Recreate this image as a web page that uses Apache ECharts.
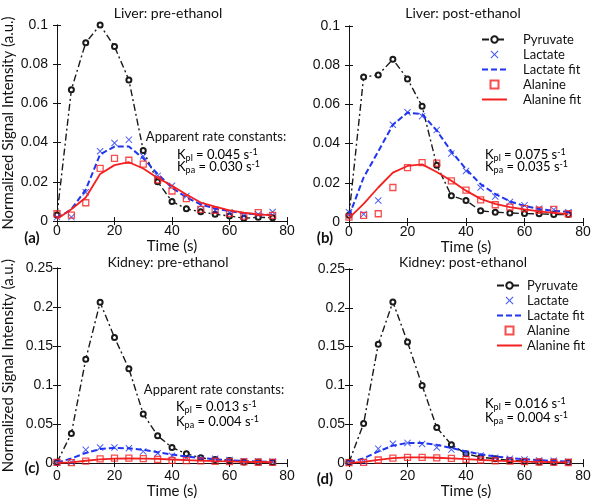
<!DOCTYPE html>
<html><head><meta charset="utf-8">
<script src="https://cdn.jsdelivr.net/npm/echarts@6/dist/echarts.min.js"></script>
<style>html,body{margin:0;padding:0;background:#fff}#c{width:601px;height:500px}</style>
</head><body><div id="c"></div>
<script>
var time = [0,5,10,15,20,25,30,35,40,45,50,55,60,65,70,75];
var panelTitles = ['Liver: pre-ethanol','Liver: post-ethanol','Kidney: pre-ethanol','Kidney: post-ethanol'];
var panelLetters = ['(a)','(b)','(c)','(d)'];
var liverTicks = [0,0.02,0.04,0.06,0.08,0.1];
var kidneyTicks = [0,0.05,0.1,0.15,0.2,0.25];
var timeTicks = [0,20,40,60,80];
var seriesNames = ['Pyruvate','Lactate','Lactate fit','Alanine','Alanine fit'];
var rateKpl = ['0.045','0.075','0.013','0.016'];
var rateKpa = ['0.030','0.035','0.004','0.004'];

// (a) Liver pre-ethanol
var liverPrePyruvate    = [0.003,0.067,0.091,0.100,0.089,0.072,0.036,0.020,0.010,0.0062,0.0047,0.0034,0.0026,0.0014,0.0019,0.0017];
var liverPreLactate     = [0.002,0.002,0.0147,0.0356,0.0398,0.0415,0.033,0.023,0.018,0.0127,0.0080,0.0055,0.0043,0.0026,0.0034,0.0046];
var liverPreLactateFit  = [0.0014,0.006,0.016,0.034,0.038,0.038,0.032,0.024,0.017,0.012,0.0085,0.0063,0.0051,0.0039,0.0034,0.0030];
var liverPreAlanine     = [0.0037,0.0030,0.0093,0.0268,0.032,0.031,0.029,0.021,0.0153,0.0114,0.0059,0.0054,0.0039,0.0025,0.0043,0.0029];
var liverPreAlanineFit  = [0.001,0.006,0.012,0.024,0.0285,0.030,0.0268,0.022,0.018,0.0135,0.0094,0.0073,0.0054,0.0043,0.0034,0.0029];
// (b) Liver post-ethanol
var liverPostPyruvate   = [0.0034,0.074,0.075,0.083,0.073,0.059,0.029,0.0134,0.011,0.0057,0.005,0.0046,0.0043,0.0042,0.0038,0.0038];
var liverPostLactate    = [0.005,0.004,0.011,0.0496,0.056,0.054,0.047,0.035,0.026,0.0176,0.013,0.0102,0.0085,0.0068,0.0063,0.005];
var liverPostLactateFit = [0.003,0.0227,0.036,0.0496,0.0558,0.055,0.0466,0.036,0.027,0.0193,0.0143,0.0105,0.0082,0.0066,0.0057,0.0052];
var liverPostAlanine    = [0.0025,0.0034,0.0042,0.0176,0.0277,0.0303,0.030,0.021,0.0163,0.0113,0.0088,0.0076,0.0068,0.006,0.0064,0.0042];
var liverPostAlanineFit = [0.002,0.0092,0.0176,0.0252,0.0286,0.0294,0.0255,0.021,0.016,0.0118,0.0092,0.0076,0.0064,0.0054,0.0047,0.004];
// (c) Kidney pre-ethanol
var kidneyPrePyruvate    = [0.001,0.038,0.133,0.206,0.161,0.121,0.063,0.035,0.020,0.012,0.0067,0.0046,0.0034,0.0013,0.0013,0.0010];
var kidneyPreLactate     = [0.001,0.001,0.017,0.020,0.020,0.019,0.015,0.0126,0.0093,0.0067,0.006,0.0055,0.004,0.0025,0.0025,0.002];
var kidneyPreLactateFit  = [0.0005,0.006,0.013,0.018,0.0195,0.019,0.017,0.014,0.011,0.0085,0.0065,0.005,0.0035,0.0027,0.002,0.0015];
var kidneyPreAlanine     = [0.001,0.0005,0.0025,0.0055,0.0063,0.0063,0.0058,0.0046,0.0034,0.0032,0.0028,0.0024,0.0019,0.0015,0.0011,0.001];
var kidneyPreAlanineFit  = [0.0002,0.001,0.003,0.0048,0.0057,0.006,0.0058,0.0053,0.0046,0.0039,0.0032,0.0026,0.0021,0.0017,0.0014,0.0011];
// (d) Kidney post-ethanol
var kidneyPostPyruvate   = [0.001,0.051,0.153,0.2076,0.156,0.100,0.0458,0.0237,0.012,0.0076,0.0055,0.0034,0.0025,0.0013,0.0013,0.001];
var kidneyPostLactate    = [0.001,0.002,0.0186,0.025,0.026,0.0246,0.020,0.0174,0.012,0.0097,0.0068,0.0055,0.0047,0.0034,0.003,0.002];
var kidneyPostLactateFit = [0.001,0.006,0.015,0.0225,0.026,0.026,0.0235,0.0195,0.015,0.0115,0.0085,0.0065,0.005,0.0037,0.0028,0.002];
var kidneyPostAlanine    = [0.0005,0.001,0.004,0.0065,0.0075,0.0075,0.0068,0.006,0.0048,0.004,0.003,0.0025,0.0018,0.0014,0.001,0.0008];
var kidneyPostAlanineFit = [0.0002,0.0015,0.0042,0.0063,0.0073,0.0074,0.0069,0.006,0.005,0.0041,0.0033,0.0026,0.002,0.0016,0.0012,0.001];

var panels = [
  [liverPrePyruvate, liverPreLactate, liverPreLactateFit, liverPreAlanine, liverPreAlanineFit],
  [liverPostPyruvate, liverPostLactate, liverPostLactateFit, liverPostAlanine, liverPostAlanineFit],
  [kidneyPrePyruvate, kidneyPreLactate, kidneyPreLactateFit, kidneyPreAlanine, kidneyPreAlanineFit],
  [kidneyPostPyruvate, kidneyPostLactate, kidneyPostLactateFit, kidneyPostAlanine, kidneyPostAlanineFit]
];
var yTicks = [liverTicks, liverTicks, kidneyTicks, kidneyTicks];

function pairs(v){ return time.map(function(t,i){ return [t, v[i]]; }); }

var BLUE = '#1f35f0', RED = '#f42020', BLACK = '#1a1a1a';
var FONT = 'Lato';
var XSYM = 'path://M0,1L1,0L5,4L9,0L10,1L6,5L10,9L9,10L5,6L1,10L0,9L4,5Z';
var SQ = 'path://M0,0L10,0L10,10L0,10Z';

var grids = [
  {left:53, top:25, width:234, height:196},
  {left:349, top:26, width:234, height:196},
  {left:53, top:268, width:234, height:198},
  {left:349, top:269, width:234, height:197}
];
var xAxes = [], yAxes = [], series = [];
for (var p=0;p<4;p++){
  var bottom = p>=2;
  var yt = yTicks[p];
  xAxes.push({gridIndex:p, type:'value', min:timeTicks[0], max:timeTicks[timeTicks.length-1], interval:timeTicks[1]-timeTicks[0],
    name:'Time (s)', nameLocation:'middle', nameGap: bottom?19:16,
    nameTextStyle:{fontFamily:FONT, fontSize:15, color:'#111'},
    axisLine:{lineStyle:{color:'#111', width:1}}, axisTick:{inside:true, length:4, lineStyle:{color:'#111'}},
    axisLabel:{margin: bottom?6:3, fontFamily:'Liberation Sans', fontSize:14, color:'#111'}, splitLine:{show:false}});
  yAxes.push({gridIndex:p, type:'value', min:yt[0], max:yt[yt.length-1], interval:yt[1]-yt[0],
    name: (p%2===0)?'Normalized Signal Intensity (a.u.)':'', nameLocation:'middle', nameGap:41, nameRotate:90,
    nameTextStyle:{fontFamily:FONT, fontSize:15, color:'#111'},
    axisLine:{show:true, lineStyle:{color:'#111', width:1}}, axisTick:{inside:true, length:4, lineStyle:{color:'#111'}},
    axisLabel:{margin: bottom?4:9, fontFamily:'Liberation Sans', fontSize:14, color:'#111'}, splitLine:{show:false}});
}
for (var p=0;p<4;p++){
  var yt = yTicks[p];
  xAxes.push({gridIndex:p, type:'value', position:'top', min:timeTicks[0], max:timeTicks[timeTicks.length-1], interval:timeTicks[1]-timeTicks[0],
    axisLine:{lineStyle:{color:'#111', width:1}}, axisTick:{inside:true, length:4, lineStyle:{color:'#111'}},
    axisLabel:{show:false}, splitLine:{show:false}});
  yAxes.push({gridIndex:p, type:'value', position:'right', min:yt[0], max:yt[yt.length-1], interval:yt[1]-yt[0],
    axisLine:{show:true, lineStyle:{color:'#111', width:1}}, axisTick:{inside:true, length:4, lineStyle:{color:'#111'}},
    axisLabel:{show:false}, splitLine:{show:false}});
}
for (var p=0;p<4;p++){
  var d = panels[p];
  series.push({name:seriesNames[0], type:'line', xAxisIndex:p, yAxisIndex:p, data:pairs(d[0]),
    symbol:'emptyCircle', symbolSize:5, itemStyle:{color:BLACK, borderWidth:1},
    lineStyle:{color:BLACK, width:1.4, type:[7,3,2,3]}, z:2});
  series.push({name:seriesNames[1], type:'scatter', xAxisIndex:p, yAxisIndex:p, data:pairs(d[1]),
    symbol:XSYM, symbolSize:7, itemStyle:{color:BLUE}, z:3});
  series.push({name:seriesNames[2], type:'line', xAxisIndex:p, yAxisIndex:p, data:pairs(d[2]),
    symbol:'none', lineStyle:{color:BLUE, width:2, type:[6,3]}, itemStyle:{color:BLUE}, z:3});
  series.push({name:seriesNames[3], type:'scatter', xAxisIndex:p, yAxisIndex:p, data:pairs(d[3]),
    symbol:'rect', symbolSize:6, itemStyle:{color:'rgba(0,0,0,0)', borderColor:RED, borderWidth:1.3}, z:4});
  series.push({name:seriesNames[4], type:'line', xAxisIndex:p, yAxisIndex:p, data:pairs(d[4]),
    symbol:'none', lineStyle:{color:RED, width:1.8}, itemStyle:{color:RED}, z:4});
}

var rich = {
  b:{fontFamily:FONT, fontSize:13, color:'#111'},
  sub:{fontFamily:FONT, fontSize:9, color:'#111', verticalAlign:'bottom', padding:[6,0,0,0]},
  sup:{fontFamily:FONT, fontSize:9, color:'#111', verticalAlign:'top', padding:[0,0,6,0]}
};
function rateText(sub, val){ return '{b|K}{sub|'+sub+'}{b| = '+val+' s}{sup|-1}'; }

var graphics = [];
var titlePos = [[168,13],[463,13],[168,262],[463,262]];
var letterPos = [[32,238],[325,238],[32,468],[325,479]];
for (var p=0;p<4;p++){
  graphics.push({type:'text', x:titlePos[p][0], y:titlePos[p][1], style:{text:panelTitles[p], font:'14px '+FONT, fill:'#111', textAlign:'center', textVerticalAlign:'middle'}});
  graphics.push({type:'text', x:letterPos[p][0], y:letterPos[p][1], style:{text:panelLetters[p], font:'bold 15px '+FONT, fill:'#111', textAlign:'center', textVerticalAlign:'middle'}});
}
var apparentPos = [[216,137],null,[214,390],null];
var kplPos = [[177,155],[485,155],[176,407],[485,404]];
var kpaPos = [[177,167],[485,167],[176,422],[485,418]];
for (var p=0;p<4;p++){
  if (apparentPos[p]) graphics.push({type:'text', x:apparentPos[p][0], y:apparentPos[p][1], style:{text:'Apparent rate constants:', font:'13px '+FONT, fill:'#111', textAlign:'center', textVerticalAlign:'middle'}});
  graphics.push({type:'text', x:kplPos[p][0], y:kplPos[p][1], style:{text:rateText('pl', rateKpl[p]), rich:rich, textVerticalAlign:'middle'}});
  graphics.push({type:'text', x:kpaPos[p][0], y:kpaPos[p][1], style:{text:rateText('pa', rateKpa[p]), rich:rich, textVerticalAlign:'middle'}});
}

var hidden = {color:'rgba(0,0,0,0)', borderColor:'rgba(0,0,0,0)', borderWidth:0, opacity:0};
var legendData = [
  {name:seriesNames[0]},
  {name:seriesNames[1], icon:XSYM},
  {name:seriesNames[2], itemStyle:hidden},
  {name:seriesNames[3], icon:SQ},
  {name:seriesNames[4], itemStyle:hidden}
];
function legendCfg(left, top, textPad){
  return {orient:'vertical', data:legendData, itemHeight:8, itemGap:2, symbolKeepAspect:true,
    left:left, top:top, itemWidth:25,
    textStyle:{fontFamily:FONT, fontSize:13, lineHeight:13, color:'#111', padding:[0,0,0,textPad]}, selectedMode:false};
}

var chart = echarts.init(document.getElementById('c'), null, {renderer:'canvas'});
chart.setOption({
  animation:false,
  backgroundColor:'#fff',
  grid:grids, xAxis:xAxes, yAxis:yAxes, series:series,
  legend:[ legendCfg(476, 28, 11), legendCfg(491, 274, 0) ],
  graphic:graphics
});
</script></body></html>
